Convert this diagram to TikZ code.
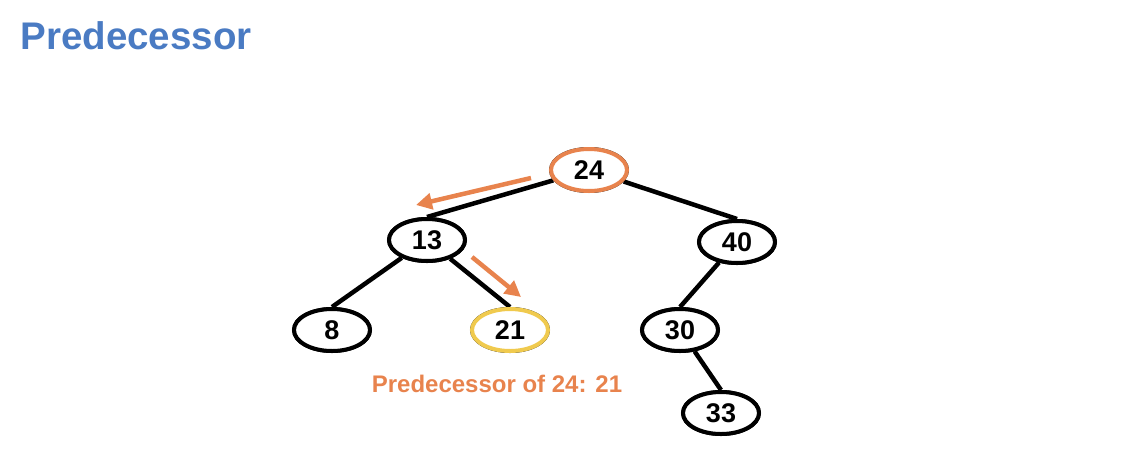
\documentclass[tikz,border=0pt]{standalone}
\usepackage{fontspec}
\setmainfont{Liberation Sans}
\usetikzlibrary{arrows.meta,shapes.geometric}
\definecolor{titleblue}{HTML}{4A7BC3}
\definecolor{arrorange}{HTML}{E8834D}
\definecolor{hiyellow}{HTML}{F0CA4E}
\tikzset{
  treenode/.style={ellipse, draw=black, line width=4pt, fill=white,
    minimum width=76pt, minimum height=42pt, inner sep=0pt,
    font=\fontsize{27}{27}\selectfont\bfseries},
  treeedge/.style={line width=4.5pt, black},
  hint/.style={line width=4.5pt, arrorange, -{Triangle[length=16pt,width=16pt]}}
}
\begin{document}
\begin{tikzpicture}[x=1pt,y=-1pt]
\useasboundingbox (0,0) rectangle (1148,464);
\node[anchor=west, text=titleblue, font=\fontsize{38.5}{38.5}\selectfont\bfseries] (title) at (17,36) {Predecessor};

\node[treenode] (n24) at (589,170) {24};
\node[treenode] (n13) at (427,240) {13};
\node[treenode] (n40) at (737,242) {40};
\node[treenode] (n8)  at (332,330) {8};
\node[treenode] (n21) at (510,330) {21};
\node[treenode] (n30) at (680,330) {30};
\node[treenode] (n33) at (721,413) {33};

\draw[treeedge] (n24) -- (n13.north);
\draw[treeedge] (n24) -- (n40.north);
\draw[treeedge] (n13) -- (n8.north);
\draw[treeedge] (n13) -- (n21.north);
\draw[treeedge] (n40) -- (n30.north);
\draw[treeedge] (n30) -- (n33.north);
% redraw nodes on top of edges
\node[treenode, draw=arrorange] at (n24) {24};
\node[treenode] at (n13) {13};
\node[treenode] at (n40) {40};
\node[treenode] at (n8) {8};
\node[treenode, draw=hiyellow] at (n21) {21};
\node[treenode] at (n30) {30};
\node[treenode] at (n33) {33};

\coordinate (a1s) at (531,178);
\coordinate (a1e) at (416,205);
\coordinate (a2s) at (472,257);
\coordinate (a2e) at (521,297);
\draw[hint] (a1s) -- (a1e);
\draw[hint] (a2s) -- (a2e);

\node[text=arrorange, font=\fontsize{24}{24}\selectfont\bfseries] (lbl) at (497,384) {Predecessor of 24: 21};
\end{tikzpicture}
\end{document}
